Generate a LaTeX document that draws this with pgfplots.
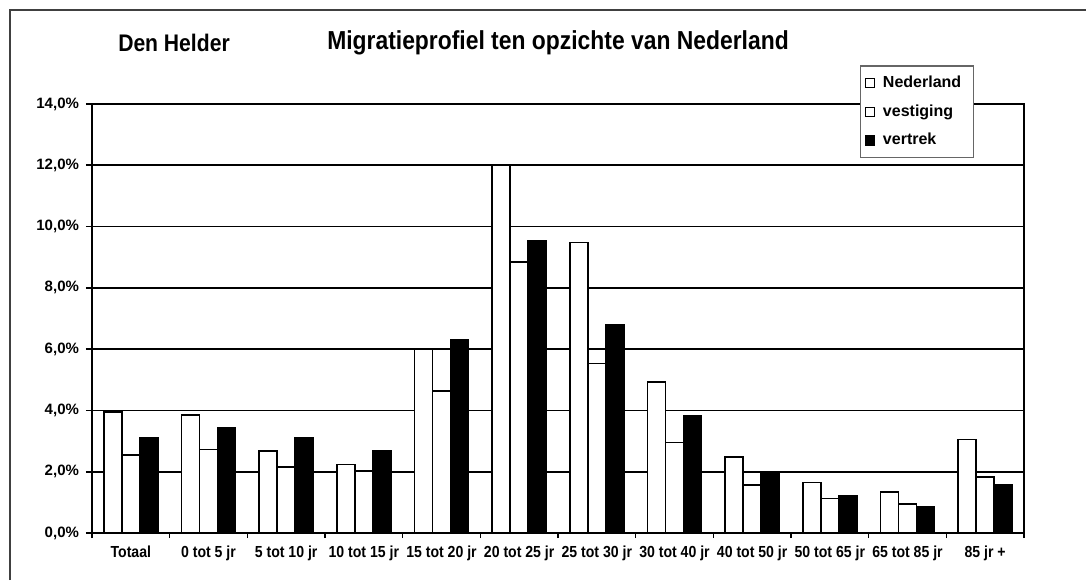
\documentclass[border=0pt]{standalone}
\usepackage{fontspec}
\setmainfont{Liberation Sans}
\newfontfamily\narrowfont[FakeStretch=0.88]{Liberation Sans}
\usepackage{pgfplots}
\usepackage{pgfplotstable}
\pgfplotsset{compat=1.18}
\pgfplotstableread{
x ned vest vert
0 3.95 2.55 3.12
1 3.86 2.72 3.42
2 2.67 2.15 3.11
3 2.23 2.02 2.68
4 6.00 4.64 6.29
5 12.00 8.84 9.52
6 9.48 5.53 6.80
7 4.92 2.96 3.84
8 2.48 1.56 1.98
9 1.65 1.13 1.22
10 1.34 0.94 0.85
11 3.05 1.83 1.56
}\data
\begin{document}
\begin{tikzpicture}
\path[use as bounding box] (0,0) rectangle (543pt,290pt);
\draw[black!75, line width=0.8pt] (5pt,0) -- (5pt,285pt) -- (543pt,285pt);
\node[font=\narrowfont\bfseries\fontsize{12}{14}\selectfont] at (87pt,268.5pt) {Den Helder};
\node[font=\narrowfont\bfseries\fontsize{13}{15}\selectfont] at (279pt,268.5pt) {Migratieprofiel ten opzichte van Nederland};
\begin{axis}[
  at={(46pt,23.5pt)}, anchor=south west,
  scale only axis, width=466pt, height=214.5pt,
  ybar=0pt, bar width=9pt,
  xmin=-0.5, xmax=11.5, ymin=0, ymax=14,
  xtick={0,...,11},
  xticklabels={Totaal,0 tot 5 jr,5 tot 10 jr,10 tot 15 jr,15 tot 20 jr,20 tot 25 jr,25 tot 30 jr,30 tot 40 jr,40 tot 50 jr,50 tot 65 jr,65 tot 85 jr,85 jr +},
  ytick={0,2,...,14},
  yticklabel={\pgfmathprintnumber[fixed,fixed zerofill,precision=1,use comma]{\tick}\%},
  /pgf/number format/assume math mode=true,
  ymajorgrids, grid style={black, line width=0.8pt},
  axis line style={black, line width=0.8pt},
  tick pos=left,
  tick align=outside, major tick length=3pt,
  major tick style={black, line width=0.8pt},
  major x tick style={draw=none},
  minor xtick={-0.5,0.5,...,11.5}, minor tick length=2.5pt,
  minor x tick style={black, line width=0.6pt},
  yticklabel style={font=\bfseries\fontsize{7.5}{9}\selectfont},
  xticklabel style={font=\narrowfont\bfseries\fontsize{8}{9}\selectfont},
  legend style={at={(0.824,1.09)}, anchor=north west, draw=black!60, line width=0.6pt,
    font=\bfseries\fontsize{8}{10}\selectfont, row sep=3pt, inner xsep=2pt, inner ysep=3pt,
    cells={anchor=west}, nodes={inner xsep=4pt}},
]
\addplot[draw=black, fill=white, line width=0.8pt,
  legend image code/.code={\draw[fill=white,draw=black,line width=0.6pt] (0pt,-2.3pt) rectangle (4.6pt,2.3pt);}]
  table[x=x, y=ned] {\data};
\addplot[draw=black, fill=white, line width=0.8pt,
  legend image code/.code={\draw[fill=white,draw=black,line width=0.6pt] (0pt,-2.3pt) rectangle (4.6pt,2.3pt);}]
  table[x=x, y=vest] {\data};
\addplot[draw=black, fill=black, line width=0.8pt,
  legend image code/.code={\draw[fill=black,draw=black,line width=0.6pt] (0pt,-2.3pt) rectangle (4.6pt,2.3pt);}]
  table[x=x, y=vert] {\data};
\legend{Nederland,vestiging,vertrek}
\end{axis}
\end{tikzpicture}
\end{document}
